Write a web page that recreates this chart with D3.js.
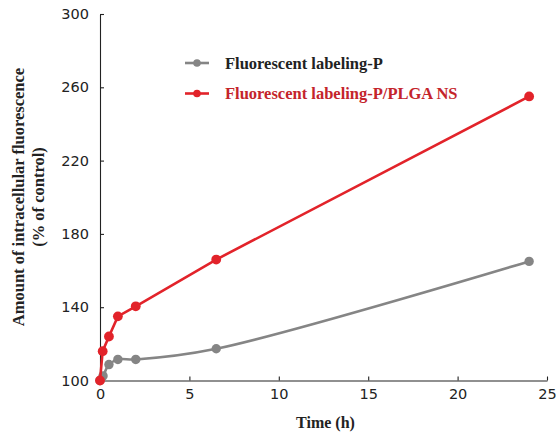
<!DOCTYPE html>
<html>
<head>
<meta charset="utf-8">
<title>Intracellular fluorescence</title>
<style>
  body { margin: 0; background: #fff; }
  svg { display: block; }
</style>
</head>
<body>
<svg id="chart" width="556" height="434"></svg>
<script src="https://cdn.jsdelivr.net/npm/d3@7"></script>
<script>
// data
const timeP = [0, 0.17, 0.5, 1, 2, 6.5, 24];
const valueP = [100, 102.5, 108.7, 111.5, 111.5, 117.3, 165];
const timeNS = [0, 0.15, 0.5, 1, 2, 6.5, 24];
const valueNS = [100, 116, 124, 135, 140.5, 166, 255];
const xTicks = [0, 5, 10, 15, 20, 25];
const yTicks = [100, 140, 180, 220, 260, 300];
const seriesNames = ["Fluorescent labeling-P", "Fluorescent labeling-P/PLGA NS"];

const grey = "#858585", red = "#e2232a", redText = "#c4242b";
const serif = "'Liberation Serif', 'Times New Roman', serif";
const sans = "'DejaVu Sans', sans-serif";

const svg = d3.select("#chart");

const x = d3.scaleLinear().domain([0, 25]).range([100, 547]);
const y = d3.scaleLinear().domain([100, 300]).range([380.5, 14]);

// axes, ticks point inward
const gx = svg.append("g")
    .attr("transform", `translate(0,${y(100)})`)
    .call(d3.axisBottom(x).tickValues(xTicks).tickSizeInner(-4).tickSizeOuter(0).tickPadding(8));
const gy = svg.append("g")
    .attr("transform", `translate(${x(0)},0)`)
    .call(d3.axisLeft(y).tickValues(yTicks).tickSizeInner(-4).tickSizeOuter(0).tickPadding(11));

[gx, gy].forEach(g => {
  g.select(".domain").attr("stroke", "#222").attr("stroke-width", 1.1);
  g.selectAll(".tick line").attr("stroke", "#222").attr("stroke-width", 1.1);
  g.selectAll(".tick text")
    .attr("font-family", sans)
    .attr("font-size", 14.5)
    .attr("fill", "#222");
});

// axis titles
svg.append("text")
    .attr("x", x(12.5) + 2)
    .attr("y", 428)
    .attr("text-anchor", "middle")
    .attr("font-family", serif)
    .attr("font-weight", "bold")
    .attr("font-size", 16)
    .attr("fill", "#222")
    .text("Time (h)");

const yt = svg.append("text")
    .attr("transform", "translate(24,197) rotate(-90)")
    .attr("text-anchor", "middle")
    .attr("font-family", serif)
    .attr("font-weight", "bold")
    .attr("font-size", 16.5)
    .attr("fill", "#222");
yt.append("tspan").attr("x", 0).attr("y", 0).text("Amount of intracellular fluorescence");
yt.append("tspan").attr("x", 0).attr("dy", 20).text("(% of control)");

// series
const ptsP = timeP.map((t, i) => [t, valueP[i]]);
const ptsNS = timeNS.map((t, i) => [t, valueNS[i]]);

// grey series is drawn smoothed, red one with straight segments
const lineP = d3.line().x(d => x(d[0])).y(d => y(d[1])).curve(d3.curveCatmullRom.alpha(0.5));
const lineNS = d3.line().x(d => x(d[0])).y(d => y(d[1]));

svg.append("path")
    .attr("d", lineP(ptsP))
    .attr("fill", "none")
    .attr("stroke", grey)
    .attr("stroke-width", 2.6);
svg.append("g").selectAll("circle")
    .data(ptsP)
    .join("circle")
    .attr("cx", d => x(d[0]))
    .attr("cy", d => y(d[1]))
    .attr("r", 4.7)
    .attr("fill", grey);

svg.append("path")
    .attr("d", lineNS(ptsNS))
    .attr("fill", "none")
    .attr("stroke", red)
    .attr("stroke-width", 2.6);
svg.append("g").selectAll("circle")
    .data(ptsNS)
    .join("circle")
    .attr("cx", d => x(d[0]))
    .attr("cy", d => y(d[1]))
    .attr("r", 4.9)
    .attr("fill", red);

// legend
const legend = svg.append("g");
const legendRows = [
  { name: seriesNames[0], line: grey, text: "#222", y: 63 },
  { name: seriesNames[1], line: red, text: redText, y: 93.5 }
];
legendRows.forEach(r => {
  legend.append("line")
      .attr("x1", 185).attr("x2", 209)
      .attr("y1", r.y).attr("y2", r.y)
      .attr("stroke", r.line).attr("stroke-width", 2.6);
  legend.append("circle")
      .attr("cx", 197).attr("cy", r.y).attr("r", 3.8)
      .attr("fill", r.line);
  legend.append("text")
      .attr("x", 225).attr("y", r.y + 5.5)
      .attr("font-family", serif)
      .attr("font-weight", "bold")
      .attr("font-size", 16.5)
      .attr("fill", r.text)
      .text(r.name);
});
</script>
</body>
</html>
